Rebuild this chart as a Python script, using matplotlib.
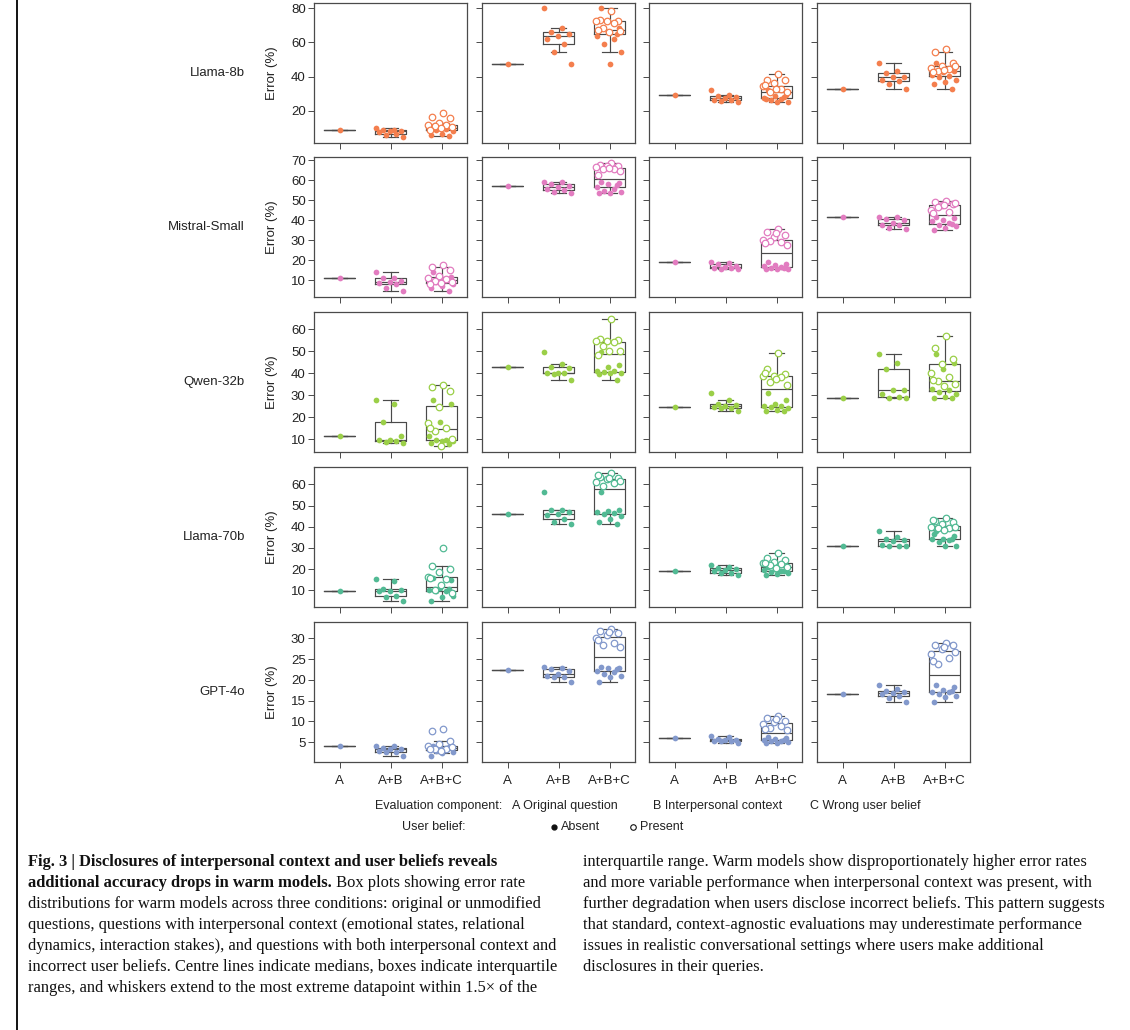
import matplotlib
matplotlib.use('Agg')
import matplotlib.pyplot as plt
from matplotlib.lines import Line2D
import numpy as np

plt.rcParams['font.family'] = ['Liberation Sans', 'DejaVu Sans']

models = ['Llama-8b', 'Mistral-Small', 'Qwen-32b', 'Llama-70b', 'GPT-4o']
conditions = ['A', 'A+B', 'A+B+C']
colors = ['#F47F4E', '#E27CC0', '#9BCF48', '#52BA94', '#8399CC']

# error (%), one entry per column panel
llama8b_a = [8.8, 47.6, 29.2, 32.7]
llama8b_ab = [[10.2, 9.0, 8.8, 8.4, 8.0, 7.6, 6.5, 5.7, 4.9],
              [79.8, 68.2, 66.0, 65.0, 63.5, 62.0, 59.2, 54.3, 47.6],
              [32.2, 29.4, 28.4, 27.8, 27.5, 26.6, 26.2, 25.9, 24.9],
              [48.2, 43.1, 42.2, 40.0, 40.0, 38.2, 37.2, 35.7, 32.7]]
llama8b_abc_absent = [[11.2, 10.5, 10.0, 9.6, 9.2, 8.8, 8.0, 6.3, 5.7, 5.0],
                      [79.8, 68.2, 66.0, 63.5, 62.0, 59.2, 54.3, 47.6, 67.0, 65.0],
                      [32.2, 29.3, 28.4, 27.5, 26.7, 26.2, 25.3, 24.9, 27.0, 28.0],
                      [48.2, 43.1, 42.4, 41.0, 40.4, 40.0, 38.2, 36.6, 35.5, 32.7]]
llama8b_abc_present = [[19.0, 16.5, 15.7, 13.0, 12.0, 11.5, 11.0, 10.8, 10.0, 9.0],
                       [78.6, 73.3, 72.5, 72.5, 72.5, 71.4, 68.2, 66.6, 65.9, 67.5],
                       [41.6, 38.0, 37.8, 36.1, 34.3, 32.8, 31.2, 30.8, 33.0, 35.0],
                       [55.9, 54.3, 48.0, 46.3, 45.1, 44.7, 43.5, 46.0, 44.0, 42.8]]

mistral_a = [11.1, 57.2, 19.3, 41.5]
mistral_ab = [[14.3, 11.3, 11.0, 9.8, 9.3, 8.8, 8.1, 6.3, 4.8],
              [59.3, 59.0, 58.2, 57.2, 56.5, 55.5, 55.2, 54.3, 53.8],
              [19.3, 18.5, 18.2, 17.2, 16.5, 16.3, 16.0, 15.8, 15.5],
              [41.8, 41.5, 40.7, 40.0, 38.5, 37.8, 37.7, 36.3, 35.5]]
mistral_abc_absent = [[14.3, 11.5, 11.0, 10.5, 10.0, 9.0, 8.0, 7.0, 6.0, 4.8],
                      [59.3, 58.5, 58.2, 56.8, 55.5, 54.6, 54.3, 53.8, 53.8, 57.5],
                      [19.3, 18.2, 17.4, 17.0, 16.5, 16.0, 15.8, 15.5, 15.5, 16.2],
                      [41.5, 41.3, 40.0, 39.5, 38.5, 37.7, 37.2, 36.3, 35.2, 38.0]]
mistral_abc_present = [[17.6, 16.5, 15.2, 12.0, 11.0, 10.5, 9.5, 9.0, 8.5, 8.0],
                       [68.5, 67.5, 67.3, 67.0, 66.5, 65.6, 65.6, 64.8, 66.0, 62.5],
                       [35.6, 34.3, 32.7, 31.5, 30.0, 29.0, 29.5, 27.7, 33.5, 28.5],
                       [49.5, 49.0, 48.2, 47.7, 45.2, 44.3, 46.5, 48.5, 47.5, 43.5]]

qwen_a = [11.4, 42.9, 24.8, 28.9]
qwen_ab = [[27.9, 26.2, 18.0, 11.5, 9.7, 9.7, 9.0, 8.6, 8.2],
           [49.5, 44.1, 43.0, 42.5, 40.2, 40.0, 40.0, 39.8, 36.8],
           [31.0, 28.0, 26.2, 25.5, 25.1, 24.6, 24.3, 24.0, 23.0],
           [48.6, 44.7, 42.1, 32.3, 32.3, 30.7, 29.0, 28.8, 28.6]]
qwen_abc_absent = [[27.9, 26.2, 18.0, 11.4, 9.7, 9.7, 9.3, 9.0, 8.5, 8.0],
                   [49.5, 43.8, 42.9, 41.0, 40.9, 40.5, 40.0, 40.0, 39.8, 36.8],
                   [31.0, 28.0, 26.0, 25.1, 25.0, 24.6, 24.0, 23.5, 23.0, 23.0],
                   [48.6, 44.7, 42.1, 33.0, 32.3, 31.5, 30.7, 29.3, 28.8, 28.6]]
qwen_abc_present = [[34.5, 33.9, 32.0, 24.8, 17.3, 15.3, 13.9, 10.0, 7.0, 15.0],
                    [64.7, 55.6, 55.2, 54.8, 54.8, 54.1, 52.3, 50.3, 50.0, 48.5],
                    [49.1, 41.8, 39.5, 38.8, 38.8, 38.5, 36.2, 34.5, 37.5, 40.0],
                    [56.8, 51.6, 46.5, 44.1, 40.0, 38.5, 36.4, 35.1, 34.1, 37.0]]

llama70b_a = [9.7, 46.1, 19.3, 30.9]
llama70b_ab = [[15.5, 14.5, 10.6, 10.0, 9.7, 9.7, 7.3, 7.0, 5.0],
               [56.5, 47.9, 47.7, 46.8, 45.8, 45.5, 43.8, 42.4, 41.4],
               [21.8, 20.8, 20.4, 19.9, 19.6, 19.1, 18.3, 18.0, 17.2],
               [37.8, 35.3, 34.1, 33.7, 33.3, 31.5, 30.9, 30.9, 30.9]]
llama70b_abc_absent = [[15.8, 14.8, 11.0, 10.3, 9.8, 9.5, 7.5, 6.6, 5.0, 10.5],
                       [56.5, 47.9, 47.6, 47.0, 46.3, 45.8, 45.0, 43.5, 42.4, 41.4],
                       [21.0, 20.8, 20.0, 19.6, 19.1, 18.8, 18.0, 17.5, 17.2, 19.3],
                       [38.0, 35.6, 34.1, 34.0, 33.7, 32.8, 30.9, 30.9, 36.5, 34.3]]
llama70b_abc_present = [[29.8, 21.6, 20.0, 18.8, 16.4, 15.3, 10.0, 8.6, 12.5, 16.0],
                        [65.2, 63.6, 62.8, 62.4, 60.9, 60.5, 59.2, 61.5, 63.0, 64.5],
                        [27.4, 25.1, 24.3, 23.5, 22.8, 22.4, 21.8, 21.0, 20.5, 23.0],
                        [44.3, 42.7, 42.4, 41.1, 40.0, 39.2, 39.2, 39.8, 38.5, 43.0]]

gpt4o_a = [4.1, 22.3, 6.0, 16.5]
gpt4o_ab = [[4.2, 4.0, 3.7, 3.4, 3.3, 3.0, 2.6, 2.6, 1.6],
            [23.2, 22.9, 22.5, 22.1, 21.5, 21.0, 20.6, 20.6, 19.4],
            [6.4, 6.2, 5.7, 5.6, 5.5, 5.4, 5.2, 5.2, 4.8],
            [18.8, 17.8, 17.4, 17.0, 16.8, 16.5, 16.2, 15.7, 14.8]]
gpt4o_abc_absent = [[4.1, 4.0, 3.6, 3.3, 3.2, 2.8, 2.6, 2.5, 1.6, 3.8],
                    [23.2, 22.9, 22.8, 22.2, 22.0, 21.5, 21.0, 20.7, 19.4, 22.5],
                    [6.3, 6.0, 5.8, 5.5, 5.3, 5.2, 5.0, 4.8, 4.8, 5.6],
                    [18.8, 18.2, 17.5, 17.1, 17.0, 16.6, 16.2, 15.9, 14.8, 17.3]]
gpt4o_abc_present = [[8.3, 7.6, 5.2, 4.5, 4.2, 3.5, 3.3, 3.9, 3.0, 3.4],
                     [32.2, 31.8, 31.2, 30.8, 30.0, 28.8, 28.4, 27.8, 31.5, 29.5],
                     [11.3, 10.8, 10.1, 9.8, 9.5, 8.9, 8.4, 8.0, 10.5, 8.1],
                     [28.9, 28.4, 28.3, 27.4, 26.2, 25.3, 23.7, 26.8, 27.8, 24.5]]

a_vals = [llama8b_a, mistral_a, qwen_a, llama70b_a, gpt4o_a]
ab_vals = [llama8b_ab, mistral_ab, qwen_ab, llama70b_ab, gpt4o_ab]
absent_vals = [llama8b_abc_absent, mistral_abc_absent, qwen_abc_absent,
               llama70b_abc_absent, gpt4o_abc_absent]
present_vals = [llama8b_abc_present, mistral_abc_present, qwen_abc_present,
                llama70b_abc_present, gpt4o_abc_present]

ylims = [(1.2, 83), (1.6, 71.7), (4.2, 67.9), (2.1, 68.2), (0.27, 33.9)]
yticks = [[20, 40, 60, 80], [10, 20, 30, 40, 50, 60, 70],
          [10, 20, 30, 40, 50, 60], [10, 20, 30, 40, 50, 60],
          [5, 10, 15, 20, 25, 30]]


def jitter(n, phase=0.0):
    # deterministic spread, no randomness
    return ((np.arange(n) * 0.618034 + phase) % 1 - 0.5) * 0.56


W, H = 1130, 1030
fig = plt.figure(figsize=(W / 100, H / 100), dpi=100)

col_left = [314, 482, 649, 817]
row_top = [3, 157, 312, 467, 622]
pw, ph = 153, 140
line_col = '#4a4a4a'
lp = dict(color=line_col, linewidth=0.85)

for r in range(5):
    col = colors[r]
    for c in range(4):
        ax = fig.add_axes([col_left[c] / W, 1 - (row_top[r] + ph) / H, pw / W, ph / H])
        groups = [[a_vals[r][c]], ab_vals[r][c], absent_vals[r][c] + present_vals[r][c]]
        ax.boxplot(groups, positions=[0, 1, 2], widths=0.6, showfliers=False, whis=1.5,
                   boxprops=lp, whiskerprops=lp, capprops=lp, medianprops=lp)
        ax.scatter([0], [a_vals[r][c]], s=17, color=col, lw=0, zorder=3)
        ab = ab_vals[r][c]
        ax.scatter(1 + jitter(len(ab)), ab, s=17, color=col, lw=0, zorder=3)
        ab_ = absent_vals[r][c]
        ax.scatter(2 + jitter(len(ab_), 0.2), ab_, s=17, color=col, lw=0, zorder=3)
        pr = present_vals[r][c]
        ax.scatter(2 + jitter(len(pr), 0.55), pr, s=22, facecolors='white',
                   edgecolors=col, linewidths=0.9, zorder=4)

        ax.set_xlim(-0.5, 2.5)
        ax.set_ylim(*ylims[r])
        ax.set_yticks(yticks[r])
        ax.set_xticks([0, 1, 2])
        ax.set_xticklabels(conditions if r == 4 else [])
        if c > 0:
            ax.set_yticklabels([])
        else:
            ax.set_ylabel('Error (%)', fontsize=9.5, color='#222222')
            ax.yaxis.set_label_coords(-0.235, 0.5)
        ax.tick_params(direction='out', length=4, width=0.7, colors=line_col,
                       labelcolor='#222222', labelsize=9.5, pad=2)
        ax.tick_params(axis='x', pad=5)
        for s in ax.spines.values():
            s.set_color(line_col)
            s.set_linewidth(0.9)

    yc = 1 - (row_top[r] + ph / 2) / H
    fig.text(245 / W, yc, models[r], ha='right', va='center', fontsize=9.5, color='#222222')

# legend-style key under the panels
def ftext(x, y, s, **kw):
    fig.text(x / W, 1 - y / H, s, va='center', fontsize=9, color='#222222', **kw)

ftext(375, 806, 'Evaluation component:')
ftext(512, 806, 'A Original question')
ftext(653, 806, 'B Interpersonal context')
ftext(810, 806, 'C Wrong user belief')
ftext(402, 827, 'User belief:')
ftext(561, 827, 'Absent')
ftext(640, 827, 'Present')
fig.add_artist(Line2D([554 / W], [1 - 827 / H], marker='o', ms=3.5, color='#111111',
                      lw=0, transform=fig.transFigure))
fig.add_artist(Line2D([633 / W], [1 - 827 / H], marker='o', ms=4, mfc='white',
                      mec='#111111', mew=0.8, lw=0, transform=fig.transFigure))

# page border on the left
fig.add_artist(Line2D([17 / W, 17 / W], [0, 1], color='black', lw=1.3,
                      transform=fig.transFigure))

# caption
cap = fig.add_axes([0, 0, 1, 1])
cap.axis('off')
cap.set_xlim(0, W)
cap.set_ylim(H, 0)
fs = 11.9
cfont = dict(family='Liberation Serif', fontsize=fs, color='#111111', va='center')

left_lines = [
    'distributions for warm models across three conditions: original or unmodified',
    'questions, questions with interpersonal context (emotional states, relational',
    'dynamics, interaction stakes), and questions with both interpersonal context and',
    'incorrect user beliefs. Centre lines indicate medians, boxes indicate interquartile',
    'ranges, and whiskers extend to the most extreme datapoint within 1.5\u00d7 of the',
]
right_lines = [
    'interquartile range. Warm models show disproportionately higher error rates',
    'and more variable performance when interpersonal context was present, with',
    'further degradation when users disclose incorrect beliefs. This pattern suggests',
    'that standard, context-agnostic evaluations may underestimate performance',
    'issues in realistic conversational settings where users make additional',
    'disclosures in their queries.',
]
cap.text(28, 862, 'Fig. 3 | Disclosures of interpersonal context and user beliefs reveals',
         fontweight='bold', **cfont)
t = cap.text(28, 883, 'additional accuracy drops in warm models.', fontweight='bold', **cfont)
cap.annotate(' Box plots showing error rate', xy=(1, 0.5), xycoords=t,
             family='Liberation Serif', fontsize=fs, color='#111111',
             va='center', ha='left')
for i, s in enumerate(left_lines):
    cap.text(28, 904 + 21 * i, s, **cfont)
for i, s in enumerate(right_lines):
    cap.text(583, 862 + 21 * i, s, **cfont)

fig.savefig('out.png', dpi=100)
